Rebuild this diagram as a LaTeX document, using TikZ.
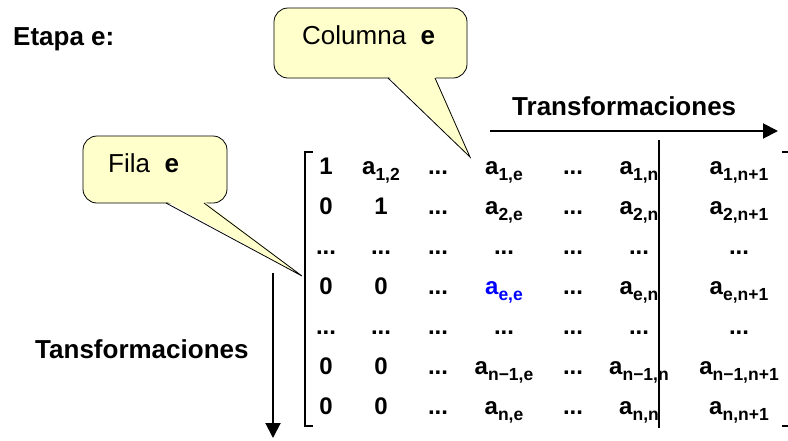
\documentclass[tikz,border=0pt]{standalone}
\usepackage{fontspec}
\setmainfont{Liberation Sans}
\usepackage{tikz}
\usetikzlibrary{arrows.meta}
\definecolor{calloutyellow}{RGB}{255,255,204}
\newcommand{\ael}[1]{a\raisebox{-6pt}{\fontsize{17.5}{18}\selectfont #1}}
\newcommand{\dd}{...}

\begin{document}
\begin{tikzpicture}[x=1pt, y=-1pt,
    ent/.style={anchor=base, inner sep=0pt, font=\fontsize{24}{25}\selectfont\bfseries},
    head/.style={anchor=base west, inner sep=0pt, font=\fontsize{26}{28}\selectfont\bfseries},
    note/.style={anchor=base west, inner sep=0pt, font=\fontsize{26}{28}\selectfont},
    callout/.style={draw=black, fill=calloutyellow, line width=0.8pt},
    arr/.style={line width=2pt, -{Triangle[length=15pt,width=15pt]}},
    brk/.style={line width=1.6pt}]
        \useasboundingbox (0, 0) rectangle (788, 440);
        \node[head] (etapa) at (13, 45) {Etapa e:};
        % callout columna
        \draw[callout, rounded corners=14pt] (274, 8) rectangle (467, 78);
        \fill[calloutyellow] (388, 76) -- (470, 157) -- (435, 76) -- cycle;
        \draw[line width=0.8pt] (388, 78) -- (470, 157) -- (435, 78);
        \node[note] (columna) at (302, 44) {Columna\ \ \textbf{e}};
        % callout fila
        \draw[callout, rounded corners=14pt] (83, 136) rectangle (227, 203);
        \fill[calloutyellow] (166, 201) -- (302, 276) -- (204, 201) -- cycle;
        \draw[line width=0.8pt] (166, 203) -- (302, 276) -- (204, 203);
        \node[note] (fila) at (108, 172) {Fila\ \ \textbf{e}};
        % transformaciones
        \node[head] (thor) at (512, 115) {Transformaciones};
        \coordinate (h0) at (490, 131);
        \coordinate (h1) at (778, 131);
        \draw[arr] (h0) -- (h1);
        \node[head] (tver) at (35, 358) {Tansformaciones};
        \coordinate (v0) at (273, 273);
        \coordinate (v1) at (273, 438);
        \draw[arr] (v0) -- (v1);
        % brackets and separator
        \draw[brk] (313, 152) -- (305, 152) -- (305, 426) -- (313, 426);
        \draw[brk] (782, 152) -- (789, 152) -- (789, 426) -- (782, 426);
        \draw[brk] (659, 140) -- (659, 428);
        % matrix entries
        \foreach \x/\t [count=\c] in {326/1, 381/{\ael{1,2}}, 438/\dd, 504/{\ael{1,e}}, 573/\dd, 639/{\ael{1,n}}, 739/{\ael{1,n+1}}}
            \node[ent] (r1c\c) at (\x, 174) {\t};
        \foreach \x/\t [count=\c] in {326/0, 381/1, 438/\dd, 504/{\ael{2,e}}, 573/\dd, 639/{\ael{2,n}}, 739/{\ael{2,n+1}}}
            \node[ent] (r2c\c) at (\x, 214) {\t};
        \foreach \x [count=\c] in {326, 381, 438, 504, 573, 639, 739}
            \node[ent] (r3c\c) at (\x, 254) {\dd};
        \foreach \x/\t [count=\c] in {326/0, 381/0, 438/\dd, 504/{\color{blue}\ael{e,e}}, 573/\dd, 639/{\ael{e,n}}, 739/{\ael{e,n+1}}}
            \node[ent] (r4c\c) at (\x, 294) {\t};
        \foreach \x [count=\c] in {326, 381, 438, 504, 573, 639, 739}
            \node[ent] (r5c\c) at (\x, 334) {\dd};
        \foreach \x/\t [count=\c] in {326/0, 381/0, 438/\dd, 504/{\ael{n−1,e}}, 573/\dd, 639/{\ael{n−1,n}}, 739/{\ael{n−1,n+1}}}
            \node[ent] (r6c\c) at (\x, 374) {\t};
        \foreach \x/\t [count=\c] in {326/0, 381/0, 438/\dd, 504/{\ael{n,e}}, 573/\dd, 639/{\ael{n,n}}, 739/{\ael{n,n+1}}}
            \node[ent] (r7c\c) at (\x, 414) {\t};
\end{tikzpicture}
\end{document}
